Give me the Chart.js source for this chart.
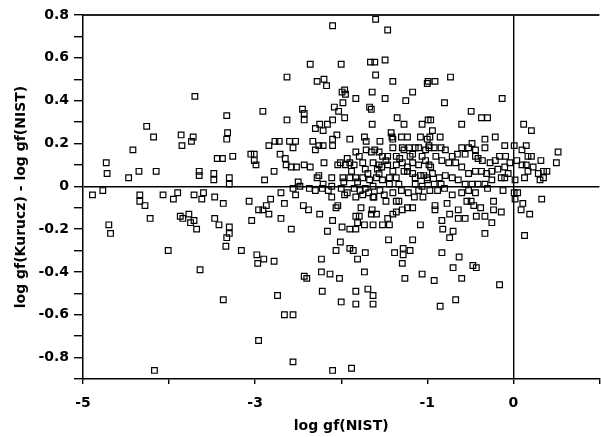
<!DOCTYPE html>
<html>
<head>
<meta charset="utf-8">
<title>log gf comparison</title>
<script src="https://cdn.jsdelivr.net/npm/chart.js@4.4.1/dist/chart.umd.min.js"></script>
<style>
    html, body { margin: 0; padding: 0; background: #fff; }
    #wrap { width: 601px; height: 437px; }
</style>
</head>
<body>
<div id="wrap"><canvas id="scatter" width="601" height="437"></canvas></div>
<script>
//x values: log gf(NIST)
const logGfNist = [
    // left part, above zero
    -3.70, -3.33, -4.26, -4.18, -3.86, -3.72, -3.74, -3.85, -3.32, -3.33, -4.42, -4.73, -4.72, -4.47, -4.35,
    -4.15, -3.65, -3.65, -3.48, -3.48, -3.30, -3.30, -3.44, -3.38, -3.26, -3.05, -3.01, -3.01, -2.99,
    // left part, below zero
    -4.89, -4.77, -4.34, -4.34, -4.28, -4.07, -3.95, -3.90, -3.71, -3.62, -3.60, -3.47, -3.37, -3.07, -2.96,
    -4.70, -4.68, -4.22, -3.87, -3.84, -3.77, -3.75, -3.71, -3.68, -3.47, -3.42, -3.30, -3.30, -3.33, -3.34,
    -3.16, -3.04, -2.98, -2.97, -4.01, -3.64, -3.37, -2.96, -4.17,
    // middle, upper
    -1.60, -1.46, -2.10, -2.36, -2.00, -1.66, -1.61, -1.49, -2.63, -2.28, -2.20, -2.17, -1.60, -1.40, -1.00,
    -1.99, -1.96, -1.95, -1.83, -1.64, -1.49, -1.25, -1.17, -2.91, -2.45, -2.43, -2.08, -2.03, -1.98, -1.67,
    -1.65, -1.96, -2.63, -2.43, -1.35, -1.64, -1.27, -0.99, -1.06, -2.10, -2.16, -2.25, -2.30, -2.21, -2.05,
    -2.10, -1.90, -1.73, -1.71, -1.55, -1.42, -1.41, -1.40, -1.30, -1.23, -1.08, -1.00, -2.84, -2.77, -2.72,
    -2.60, -2.53, -2.56, -2.33, -2.26, -2.30, -2.21, -2.10, -2.71, -2.65, -2.64, -2.58, -2.52, -2.43, -2.36,
    -2.78, -2.89,
    // middle, dense band above zero
    -1.83, -1.79, -1.71, -1.65, -1.61, -1.56, -1.52, -1.46, -1.40, -1.36, -1.29, -1.27, -1.21, -1.17, -1.14,
    -1.10, -1.06, -1.02, -0.98,
    -2.28, -2.26, -2.11, -1.98, -1.97, -1.90, -1.83, -1.81, -1.75, -1.69, -1.67, -1.59, -1.56, -1.52, -1.44,
    -1.40, -1.36, -1.27, -1.23, -1.17, -1.14, -1.08, -1.04, -1.00,
    -2.01, -1.95, -1.90, -1.85, -1.75, -1.63, -1.56, -1.53, -1.46, -1.36, -1.29, -1.23, -1.17, -1.10, -1.02,
    -0.98, -2.50, -2.48, -2.56, -2.04, -2.21, -2.11, -1.63, -1.44, -1.33, -1.14, -1.06,
    -1.88, -1.72, -1.58, -1.48, -1.32, -1.20, -1.93, -2.20,
    // right part, upper
    -0.91, -0.99, -0.73, -0.80, -0.13, -0.49, -0.37, -0.30, -0.96, -0.60, 0.12, 0.21, -0.94, -0.97, -0.85,
    -0.21, -0.33, -0.33, -0.48, -0.44, -0.10, 0.01, 0.15, 0.52, 0.50, 0.32, 0.10, 0.17, 0.21,
    0.04, 0.10, 0.15, 0.23, 0.17, 0.13, 0.29, 0.35, 0.39, 0.35, 0.31, 0.02, -0.10, 0.01,
    // right part, dense band above zero
    -0.98, -0.92, -0.84, -0.79, -0.71, -0.65, -0.60, -0.56, -0.52, -0.44, -0.41, -0.36, -0.27, -0.21, -0.16,
    -0.09, -0.04, -0.10, -0.18, -0.25, -0.31, -0.37, -0.44, -0.52, -0.60, -0.67, -0.75, -0.83, -0.90, -0.96,
    -0.94, -0.86, -0.79, -0.71, -0.64, -0.56, -0.48, -0.41, -0.33, -0.25, -0.14, -0.06, -0.84, -0.92, -1.00,
    // middle, below zero
    -2.82, -2.87, -2.91, -2.84, -2.70, -2.66, -2.70, -2.58, -2.53, -2.44, -2.38, -2.25, -2.11, -1.96, -2.06,
    -2.04, -2.10, -2.16, -1.99, -1.90, -1.83, -1.81, -1.77, -1.83, -1.79, -1.73,
    -1.83, -1.75, -1.63, -1.64, -1.59, -1.65, -1.63, -1.52, -1.44, -1.46, -1.40, -1.36, -1.29, -1.33, -1.23,
    -1.17, -1.15, -1.40, -1.48, -1.36,
    -1.08, -1.17, -1.45, -1.38, -1.28, -1.20, -1.28, -1.29, -1.26, -1.06, -1.72, -1.81, -1.86, -1.90, -2.01,
    -2.06, -2.23, -2.23, -2.13, -2.02, -2.43, -2.40, -1.73, -2.22, -2.00, -1.83, -1.83, -1.69, -1.63, -1.63,
    -2.74, -2.66, -2.56, -2.56, -2.10, -1.88, -2.90, -2.78,
    -2.37, -2.22, -1.85, -1.72, -1.62,
    -2.30, -2.15, -2.00, -1.93, -1.78, -1.68, -1.55, -1.50, -1.30, -1.22, -1.10, -1.05,
    // right part, below zero
    0.05, 0.02, 0.11, 0.09, 0.19, 0.33, 0.13, -0.16, -0.33, -0.23, -0.23, -0.14, -0.25, -0.33, -0.43,
    -0.38, -0.46, -0.54, -0.49, -0.77, -0.91, -0.91, -0.64, -0.74, -0.64, -0.56, -0.83, -0.82, -0.70, -0.74,
    -0.83, -0.63, -0.70, -0.47, -0.43, -0.60, -0.92, -0.67, -0.85,
    -0.44, -0.60, -0.71, -0.97, -0.88, -0.80, -0.52, -0.30, -0.12
];

//y values: log gf(Kurucz) - log gf(NIST)
const gfDiff = [
    0.42, 0.33, 0.28, 0.23, 0.24, 0.23, 0.21, 0.19, 0.25, 0.22, 0.17, 0.11, 0.06, 0.04, 0.07,
    0.07, 0.07, 0.05, 0.06, 0.03, 0.04, 0.01, 0.13, 0.13, 0.14, 0.15, 0.15, 0.12, 0.10,
    -0.04, -0.02, -0.04, -0.07, -0.09, -0.04, -0.06, -0.03, -0.04, -0.06, -0.03, -0.05, -0.08, -0.07, -0.11,
    -0.18, -0.22, -0.15, -0.14, -0.15, -0.13, -0.17, -0.16, -0.20, -0.15, -0.18, -0.19, -0.22, -0.24, -0.28,
    -0.30, -0.16, -0.32, -0.36, -0.30, -0.39, -0.53, -0.72, -0.86,
    0.78, 0.73, 0.75, 0.57, 0.57, 0.58, 0.58, 0.59, 0.51, 0.49, 0.50, 0.47, 0.52, 0.49, 0.48,
    0.44, 0.45, 0.43, 0.41, 0.44, 0.41, 0.40, 0.44, 0.35, 0.36, 0.34, 0.37, 0.35, 0.39, 0.37,
    0.36, 0.32, 0.31, 0.31, 0.32, 0.29, 0.29, 0.31, 0.29, 0.31, 0.29, 0.29, 0.27, 0.26, 0.24,
    0.22, 0.22, 0.23, 0.21, 0.21, 0.25, 0.23, 0.22, 0.23, 0.23, 0.23, 0.22, 0.19, 0.21, 0.21,
    0.21, 0.21, 0.18, 0.21, 0.19, 0.17, 0.19, 0.19, 0.15, 0.13, 0.10, 0.09, 0.09, 0.10, 0.09,
    0.07, 0.03,
    0.16, 0.14, 0.17, 0.16, 0.17, 0.16, 0.14, 0.14, 0.18, 0.14, 0.18, 0.17, 0.18, 0.15, 0.18,
    0.18, 0.14, 0.17, 0.19,
    0.04, 0.05, 0.04, 0.04, 0.02, 0.04, 0.04, 0.02, 0.04, 0.06, 0.03, 0.04, 0.06, 0.03, 0.04,
    0.07, 0.04, 0.07, 0.07, 0.06, 0.04, 0.05, 0.05, 0.04,
    0.11, 0.10, 0.11, 0.10, 0.11, 0.11, 0.10, 0.09, 0.10, 0.10, 0.11, 0.09, 0.11, 0.10, 0.12,
    0.10, 0.02, 0.00, -0.01, 0.10, 0.01, 0.00, 0.00, 0.01, 0.01, 0.01, 0.00,
    0.07, 0.08, 0.08, 0.12, 0.13, 0.14, 0.13, 0.11,
    0.49, 0.49, 0.51, 0.39, 0.41, 0.35, 0.32, 0.32, 0.31, 0.29, 0.29, 0.26, 0.26, 0.23, 0.23,
    0.23, 0.22, 0.18, 0.20, 0.17, 0.19, 0.19, 0.19, 0.16, 0.11, 0.12, 0.17, 0.14, 0.14,
    0.12, 0.10, 0.10, 0.09, 0.07, 0.04, 0.06, 0.07, 0.07, 0.04, 0.03, 0.03, 0.04, -0.03,
    0.18, 0.18, 0.18, 0.17, 0.14, 0.15, 0.18, 0.15, 0.18, 0.14, 0.13, 0.12, 0.11, 0.12, 0.14,
    0.14, 0.11, 0.09, 0.08, 0.07, 0.06, 0.07, 0.07, 0.06, 0.09, 0.11, 0.11, 0.12, 0.14, 0.09,
    0.06, 0.04, 0.05, 0.04, 0.03, 0.01, 0.01, 0.01, 0.01, 0.03, 0.04, 0.06, 0.01, 0.01, 0.03,
    -0.06, -0.09, -0.11, -0.13, -0.03, -0.08, -0.15, -0.20, -0.04, -0.09, -0.11, -0.13, -0.05, -0.04, -0.10,
    -0.09, -0.16, -0.21, -0.19, -0.20, -0.20, -0.17, -0.10, -0.14, -0.14, -0.18,
    -0.05, -0.04, -0.05, -0.11, -0.13, -0.13, -0.18, -0.18, -0.18, -0.15, -0.13, -0.12, -0.11, -0.07, -0.10,
    -0.10, -0.05, -0.03, -0.07, -0.07,
    -0.18, -0.25, -0.25, -0.31, -0.29, -0.30, -0.32, -0.36, -0.43, -0.41, -0.31, -0.34, -0.30, -0.29, -0.26,
    -0.30, -0.34, -0.40, -0.41, -0.43, -0.42, -0.43, -0.40, -0.49, -0.54, -0.49, -0.55, -0.48, -0.51, -0.55,
    -0.51, -0.60, -0.60, -0.82, -0.86, -0.85, -0.34, -0.35,
    -0.01, -0.01, -0.01, -0.01, -0.05,
    -0.02, -0.02, -0.01, -0.03, -0.02, -0.03, -0.02, -0.04, -0.02, -0.03, -0.02, -0.05,
    -0.03, -0.06, -0.08, -0.11, -0.13, -0.06, -0.23, -0.46, -0.22, -0.07, -0.11, -0.12, -0.17, -0.14, -0.14,
    -0.10, -0.09, -0.07, -0.07, -0.08, -0.09, -0.11, -0.11, -0.13, -0.15, -0.15, -0.16, -0.20, -0.21, -0.24,
    -0.31, -0.33, -0.38, -0.37, -0.38, -0.43, -0.44, -0.53, -0.56,
    -0.03, -0.03, -0.04, -0.02, -0.02, -0.01, -0.02, -0.01, -0.02
];

//axis settings
const xMin = -5, xMax = 1;
const yMin = -0.9, yMax = 0.8;
const xLabelled = [-5, -3, -1, 0];

Chart.defaults.font.family = "'DejaVu Sans', sans-serif";
Chart.defaults.font.size = 14;
Chart.defaults.font.weight = 'bold';
Chart.defaults.color = '#000';

const points = logGfNist.map((x, i) => ({ x: x, y: gfDiff[i] }));

//top frame line
const topFrame = {
    id: 'topFrame',
    afterDraw(chart) {
        const { ctx, chartArea } = chart;
        ctx.save();
        ctx.strokeStyle = '#222';
        ctx.lineWidth = 2;
        ctx.beginPath();
        ctx.moveTo(chartArea.left, chartArea.top);
        ctx.lineTo(chartArea.right, chartArea.top);
        ctx.stroke();
        ctx.restore();
    }
};

const zeroColor = (ctx) => (Math.abs(ctx.tick.value) < 1e-9 ? '#000' : 'rgba(0,0,0,0)');

new Chart(document.getElementById('scatter').getContext('2d'), {
    type: 'scatter',
    data: {
        datasets: [{
            label: 'lines',
            data: points,
            pointStyle: 'rect',
            pointRadius: 4,
            pointHoverRadius: 4,
            borderColor: '#000',
            backgroundColor: 'rgba(0,0,0,0)',
            borderWidth: 1.2
        }]
    },
    options: {
        responsive: false,
        animation: false,
        layout: {
            autoPadding: false,
            padding: { top: 15, right: 1.6, bottom: 0, left: 0 }
        },
        plugins: {
            legend: { display: false },
            tooltip: { enabled: false }
        },
        scales: {
            x: {
                type: 'linear',
                min: xMin,
                max: xMax,
                afterFit(scale) {
                    scale.height = 58;
                    scale.paddingLeft = 0;
                    scale.paddingRight = 0;
                },
                ticks: {
                    stepSize: 1,
                    autoSkip: false,
                    maxRotation: 0,
                    padding: 11,
                    callback: (v) => (xLabelled.includes(Math.round(v)) ? String(Math.round(v)) : '')
                },
                grid: {
                    color: zeroColor,
                    lineWidth: 1.4,
                    tickColor: '#000',
                    tickLength: 5
                },
                border: { display: true, color: '#000', width: 1.5 },
                title: {
                    display: true,
                    text: 'log gf(NIST)',
                    padding: { top: 0, bottom: 2 }
                }
            },
            y: {
                type: 'linear',
                min: yMin,
                max: yMax,
                afterFit(scale) { scale.width = 83; },
                ticks: {
                    stepSize: 0.1,
                    autoSkip: false,
                    padding: 5,
                    callback: (v) => {
                        const t = Math.round(v * 10);
                        return t % 2 === 0 ? String(t / 10) : '';
                    }
                },
                grid: {
                    color: zeroColor,
                    lineWidth: 1.4,
                    tickColor: '#000',
                    tickLength: 9
                },
                border: { display: true, color: '#000', width: 1.5 },
                title: {
                    display: true,
                    text: 'log gf(Kurucz) - log gf(NIST)',
                    padding: { top: 13, bottom: 0 }
                }
            }
        }
    },
    plugins: [topFrame]
});
</script>
</body>
</html>
